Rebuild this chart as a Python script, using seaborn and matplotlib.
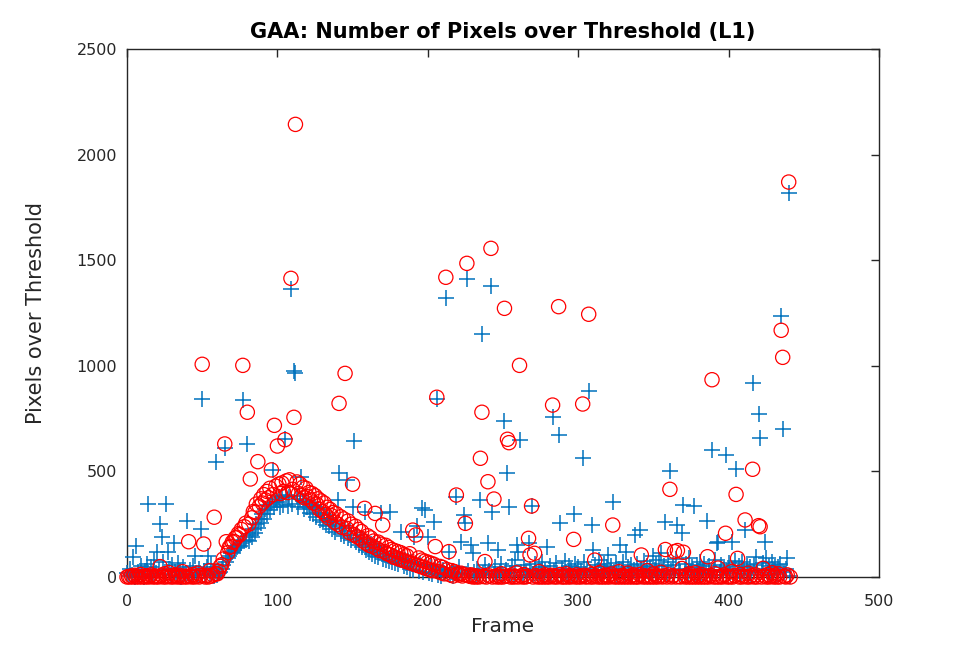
import pandas as pd
import seaborn as sns
import matplotlib.pyplot as plt

# === 1. Dados (um valor por frame, 0..441) ===
frames = list(range(442))

# pixels acima do limiar - série azul (+)
blue_vals = [
    20, 5, 40, 10, 96, 0, 148, 25, 8, 50, 15, 0, 30, 60, 346, 10, 45, 5, 80, 20,
    118, 35, 251, 191, 70, 15, 346, 120, 40, 10, 55, 159, 25, 5, 65, 30, 0, 45, 15, 20,
    267, 10, 35, 5, 50, 101, 20, 8, 40, 227, 845, 30, 10, 45, 101, 15, 60, 25, 5, 546,
    10, 20, 25, 40, 55, 610, 70, 90, 100, 115, 120, 128, 135, 140, 150, 145, 160, 838, 170, 175,
    630, 170, 200, 190, 225, 210, 250, 230, 275, 255, 300, 275, 320, 300, 340, 315, 350, 506, 330, 370,
    355, 380, 330, 385, 340, 652, 390, 335, 380, 1362, 345, 977, 964, 385, 330, 370, 472, 360, 320, 355,
    330, 345, 305, 340, 300, 330, 285, 320, 270, 305, 260, 295, 245, 280, 240, 270, 225, 260, 215, 250,
    365, 494, 205, 240, 195, 230, 459, 185, 220, 175, 333, 644, 165, 200, 150, 185, 140, 175, 309, 130,
    165, 120, 155, 110, 145, 100, 140, 95, 130, 304, 85, 120, 80, 110, 75, 309, 70, 100, 65, 95,
    60, 90, 215, 85, 50, 80, 45, 75, 40, 70, 35, 191, 65, 241, 30, 60, 325, 25, 317, 55,
    191, 20, 50, 15, 262, 45, 845, 10, 40, 5, 35, 20, 1319, 30, 120, 10, 25, 5, 20, 380,
    20, 45, 167, 15, 294, 254, 1411, 30, 10, 152, 112, 25, 5, 40, 15, 365, 1150, 20, 55, 10,
    159, 30, 1376, 309, 15, 45, 5, 128, 25, 60, 10, 739, 35, 491, 330, 20, 50, 5, 80, 152,
    120, 649, 25, 10, 55, 30, 5, 159, 40, 336, 15, 60, 20, 5, 45, 30, 70, 10, 35, 144,
    20, 50, 5, 759, 30, 65, 10, 672, 254, 40, 15, 75, 25, 5, 50, 35, 10, 298, 60, 20,
    45, 10, 30, 565, 70, 15, 40, 881, 25, 246, 128, 55, 10, 35, 80, 20, 5, 60, 30, 45,
    104, 15, 50, 357, 25, 65, 10, 40, 152, 30, 70, 5, 120, 45, 20, 55, 10, 35, 199, 60,
    25, 222, 40, 15, 75, 30, 50, 5, 45, 20, 100, 35, 60, 10, 80, 112, 25, 50, 260, 15,
    70, 500, 30, 55, 10, 85, 246, 40, 20, 207, 341, 35, 60, 15, 90, 25, 45, 338, 10, 55,
    30, 70, 15, 40, 60, 20, 265, 50, 10, 601, 35, 80, 159, 167, 25, 55, 10, 45, 578, 30,
    65, 20, 167, 40, 75, 510, 30, 50, 15, 73, 35, 222, 60, 20, 45, 10, 917, 55, 96, 30,
    771, 656, 40, 65, 164, 88, 20, 50, 10, 70, 35, 55, 15, 45, 60, 1237, 700, 25, 40, 88,
    1820, 5,
]

# pixels acima do limiar - série vermelha (o)
red_vals = [
    0, 2, 0, 5, 0, 8, 0, 3, 0, 12, 0, 4, 0, 6, 0, 2, 10, 0, 5, 0,
    3, 0, 49, 8, 0, 15, 0, 4, 20, 0, 6, 0, 10, 2, 0, 8, 0, 25, 0, 4,
    0, 167, 5, 0, 12, 0, 3, 18, 0, 6, 1007, 156, 0, 8, 0, 30, 4, 10, 283, 15,
    15, 28, 50, 58, 85, 630, 167, 115, 140, 145, 165, 168, 185, 188, 205, 200, 225, 1002, 238, 255,
    780, 250, 464, 280, 310, 305, 345, 546, 335, 370, 350, 390, 365, 405, 375, 420, 507, 390, 718, 430,
    620, 440, 395, 445, 405, 650, 455, 400, 460, 1414, 415, 756, 2143, 450, 395, 440, 385, 425, 375, 420,
    380, 400, 365, 395, 350, 385, 345, 370, 320, 360, 310, 350, 295, 330, 280, 320, 290, 305, 260, 300,
    250, 822, 285, 235, 275, 964, 230, 265, 210, 250, 439, 200, 240, 190, 225, 185, 215, 170, 325, 160,
    195, 150, 185, 145, 170, 301, 135, 165, 125, 155, 246, 120, 150, 110, 140, 105, 130, 95, 125, 90,
    120, 85, 115, 80, 105, 75, 100, 70, 110, 65, 222, 60, 199, 55, 90, 50, 80, 45, 75, 40,
    70, 35, 65, 30, 60, 144, 851, 25, 50, 20, 45, 15, 1419, 35, 120, 10, 30, 5, 25, 388,
    15, 10, 18, 5, 12, 254, 1485, 8, 3, 10, 0, 6, 0, 4, 0, 562, 780, 2, 73, 0,
    451, 5, 1556, 0, 369, 3, 0, 8, 0, 15, 0, 1272, 4, 652, 636, 0, 10, 0, 2, 20,
    0, 1002, 5, 0, 12, 0, 3, 183, 104, 336, 0, 112, 6, 0, 25, 0, 4, 0, 10, 0,
    3, 0, 8, 814, 0, 5, 0, 1280, 12, 0, 2, 0, 15, 0, 6, 0, 3, 178, 0, 10,
    0, 4, 0, 819, 8, 0, 2, 1244, 0, 12, 0, 80, 5, 0, 20, 0, 3, 0, 9, 0,
    6, 0, 14, 246, 0, 4, 0, 25, 0, 7, 0, 3, 0, 18, 0, 5, 0, 10, 0, 2,
    0, 12, 104, 0, 6, 0, 30, 0, 4, 0, 15, 0, 8, 0, 3, 22, 0, 5, 130, 0,
    10, 415, 0, 6, 120, 0, 125, 3, 0, 40, 117, 0, 8, 0, 15, 0, 4, 0, 20, 0,
    6, 0, 12, 0, 3, 0, 96, 0, 8, 934, 0, 15, 0, 42, 0, 5, 0, 10, 207, 0,
    3, 0, 25, 0, 7, 391, 88, 0, 12, 0, 4, 270, 0, 18, 0, 6, 510, 0, 10, 0,
    243, 238, 0, 41, 5, 0, 12, 0, 3, 20, 0, 8, 0, 15, 0, 1168, 1040, 4, 0, 10,
    1870, 0,
]

assert len(blue_vals) == len(frames) and len(red_vals) == len(frames)

df = pd.DataFrame({'frame': frames, 'azul': blue_vals, 'vermelho': red_vals})

# === 2. Estilo tipo MATLAB ===
sns.set_theme(style='white')
plt.rcParams['font.family'] = ['DejaVu Sans']

fig = plt.figure(figsize=(9.74, 6.48), dpi=100)
ax = fig.add_axes([0.1304, 0.1096, 0.772, 0.8148])

sns.scatterplot(data=df, x='frame', y='azul', marker='+', s=120,
                color='#0072BD', linewidth=1.1, clip_on=False, ax=ax)
sns.scatterplot(data=df, x='frame', y='vermelho', marker='o', s=105,
                facecolor='none', edgecolor='#FF0000', linewidth=0.9,
                clip_on=False, ax=ax)

ax.set_xlim(0, 500)
ax.set_ylim(0, 2500)
ax.set_xticks(range(0, 501, 100))
ax.set_yticks(range(0, 2501, 500))
ax.tick_params(direction='in', top=True, right=True, length=6, width=1,
               colors='#262626', labelsize=11.5, pad=7)
ax.tick_params(axis='x', pad=12)
for sp in ax.spines.values():
    sp.set_color('#262626')
    sp.set_linewidth(1)
    sp.set_zorder(0)

ax.set_title('GAA: Number of Pixels over Threshold (L1)', fontsize=15,
             fontweight='bold', color='black', pad=8)
ax.set_xlabel('Frame', fontsize=14.5, color='#262626', labelpad=6)
ax.set_ylabel('Pixels over Threshold', fontsize=15, color='#262626', labelpad=22)

fig.savefig('out.png', dpi=100)
